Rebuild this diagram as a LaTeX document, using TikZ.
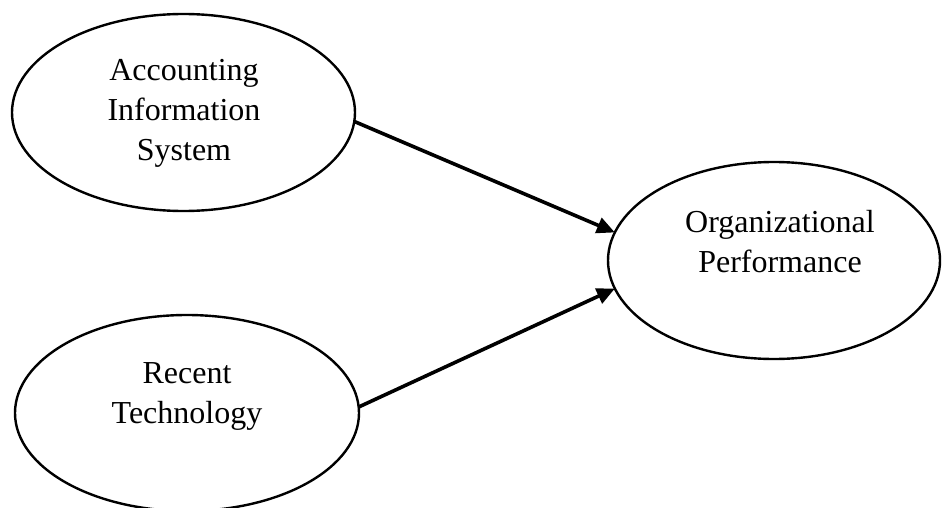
\documentclass[tikz,border=0pt]{standalone}
\usepackage{fontspec}
\setmainfont{Liberation Serif}
\usetikzlibrary{arrows.meta,shapes.geometric}
\begin{document}
\begin{tikzpicture}[x=0.5pt,y=-0.5pt,
  oval/.style={draw, ellipse, line width=1.2pt, inner sep=0pt, outer sep=0pt},
  lbl/.style={align=center, font=\fontsize{16}{20}\selectfont, inner sep=0pt},
  conn/.style={line width=1.8pt, -{Triangle[length=9pt,width=8pt]}}]
\useasboundingbox (0,0) rectangle (942,508);
\node[oval, minimum width=171.5pt, minimum height=98.5pt] (ais) at (183.5,112.5) {};
\node[oval, minimum width=172pt, minimum height=98pt] (rt) at (187,413) {};
\node[oval, minimum width=166pt, minimum height=98.5pt] (op) at (774,260.5) {};
\node[lbl] (tais) at (184,113) {Accounting\\Information\\System};
\node[lbl] (trt) at (187,396) {Recent\\Technology};
\node[lbl] (top) at (780,242) {Organizational\\Performance};
\draw[conn] (ais.-3) -- (op.170.6);
\draw[conn] (rt.2) -- (op.190);
\end{tikzpicture}
\end{document}
